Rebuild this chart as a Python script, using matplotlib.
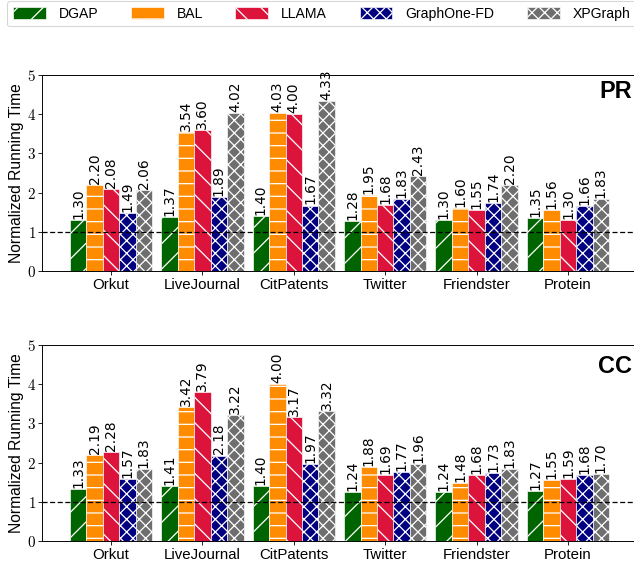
import matplotlib
matplotlib.use("Agg")
import matplotlib.pyplot as plt
import numpy as np
from matplotlib.ticker import FuncFormatter

datasets = ['Orkut', 'LiveJournal', 'CitPatents', 'Twitter', 'Friendster', 'Protein']
systems = ['DGAP', 'BAL', 'LLAMA', 'GraphOne-FD', 'XPGraph']

pr_dgap = [1.30, 1.37, 1.40, 1.28, 1.30, 1.35]
pr_bal = [2.20, 3.54, 4.03, 1.95, 1.60, 1.56]
pr_llama = [2.08, 3.60, 4.00, 1.68, 1.55, 1.30]
pr_graphone = [1.49, 1.89, 1.67, 1.83, 1.74, 1.66]
pr_xpgraph = [2.06, 4.02, 4.33, 2.43, 2.20, 1.83]

cc_dgap = [1.33, 1.41, 1.40, 1.24, 1.24, 1.27]
cc_bal = [2.19, 3.42, 4.00, 1.88, 1.48, 1.55]
cc_llama = [2.28, 3.79, 3.17, 1.69, 1.68, 1.59]
cc_graphone = [1.57, 2.18, 1.97, 1.77, 1.73, 1.68]
cc_xpgraph = [1.83, 3.22, 3.32, 1.96, 1.83, 1.70]

colors = ['#006400', '#FF8C00', '#DC143C', '#000080', '#6e6e6e']
hatches = ['/', '-', '\\', 'xx', 'xx']

DPI = 76
plt.rcParams['mathtext.fontset'] = 'cm'
plt.rcParams['hatch.color'] = 'white'
plt.rcParams['hatch.linewidth'] = 1.2
plt.rcParams['font.family'] = ['Liberation Sans', 'DejaVu Sans']

fig = plt.figure(figsize=(634 / DPI, 567 / DPI), dpi=DPI)

W = 634.0
H = 567.0
left = 42 / W
width = (650 - 42) / W
ax_top = fig.add_axes([left, 1 - 271 / H, width, (271 - 75) / H])
ax_bot = fig.add_axes([left, 1 - 541 / H, width, (541 - 345) / H])

panels = [
    (ax_top, [pr_dgap, pr_bal, pr_llama, pr_graphone, pr_xpgraph], 'PR', 80),
    (ax_bot, [cc_dgap, cc_bal, cc_llama, cc_graphone, cc_xpgraph], 'CC', 355),
]

x = np.arange(len(datasets))
bw = 0.18
handles = []
for ax, series, tag, tag_y in panels:
    for i, vals in enumerate(series):
        bars = ax.bar(x + (i - 2) * bw, vals, bw, color=colors[i], edgecolor='white',
                      linewidth=0.6, hatch=hatches[i], label=systems[i], zorder=2)
        if ax is ax_top:
            handles.append(bars)
        for b, v in zip(bars, vals):
            ax.annotate(f'{v:.2f}', (b.get_x() + b.get_width() / 2, v),
                        xytext=(0, 1), textcoords='offset points',
                        rotation=90, ha='center', va='bottom', fontsize=13,
                        family='DejaVu Sans', annotation_clip=False)
    ax.axhline(1.0, color='black', linestyle='--', dashes=(4, 2), linewidth=1.2, zorder=3)
    ax.set_xlim(-0.755, 5.897)
    ax.set_ylim(0, 5)
    ax.set_xticks(x)
    ax.set_xticklabels(datasets, fontsize=14.2)
    ax.set_yticks([0, 1, 2, 3, 4, 5])
    ax.yaxis.set_major_formatter(FuncFormatter(lambda v, p: f'${int(v)}$'))
    ax.tick_params(axis='both', direction='out', length=3.8, width=0.8, pad=2.5)
    ax.tick_params(axis='y', labelsize=14.2, pad=2)
    ax.spines['right'].set_visible(False)
    for s in ['left', 'bottom', 'top']:
        ax.spines[s].set_linewidth(0.9)
    ax.set_ylabel('Normalized Running Time', fontsize=14.8, labelpad=3)
    fig.text(632 / W, 1 - tag_y / H, tag, ha='right', va='top', fontsize=22.3,
             fontweight='bold')

fig.legend(handles=handles, labels=systems, loc='upper left',
           bbox_to_anchor=(7 / W, 1 - 1 / H), ncol=5, fontsize=13.3,
           handlelength=2.35, handleheight=1.0, handletextpad=0.93,
           columnspacing=2.3, borderpad=0.4, frameon=True, fancybox=True,
           edgecolor='#cccccc', borderaxespad=0)

fig.savefig('out.png', dpi=DPI)
